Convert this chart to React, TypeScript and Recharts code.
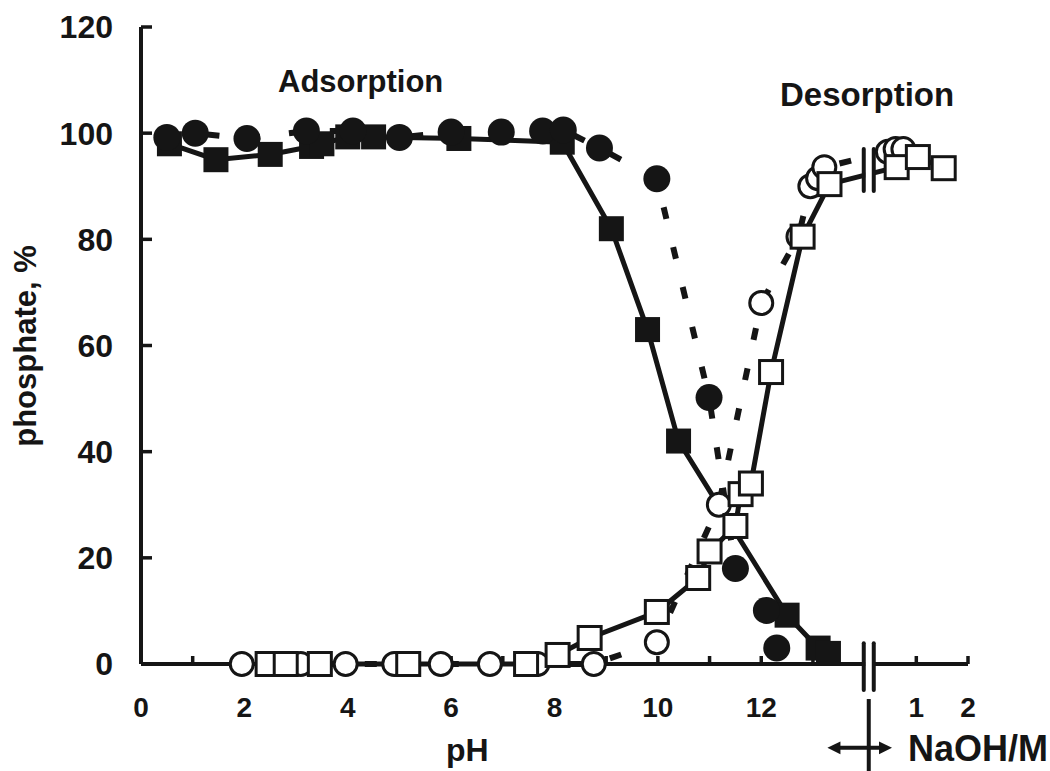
import React from "react";
import { ComposedChart, Line, XAxis, YAxis, ReferenceLine } from "recharts";

// right of the axis break the x axis reads NaOH (M); plotted at 14 + M
const naohOffset = 14;
const breakAt = 14.08;

const pHTicks = [0, 1, 2, 3, 4, 5, 6, 7, 8, 9, 10, 11, 12, 13];
const naohTicks = [1, 2];
const yTicks = [0, 20, 40, 60, 80, 100, 120];

// adsorption, closed squares (solid line)
const adsSquarePH = [0.55, 1.45, 2.5, 3.3, 3.5, 4.0, 4.5, 6.15, 8.15, 9.1, 9.8, 10.4, 12.5, 13.1, 13.3];
const adsSquareVal = [98, 95, 96, 97.5, 98, 99.3, 99.3, 99, 98.3, 82, 63, 42, 9.2, 3, 2];

// adsorption, closed circles (dashed line)
const adsCirclePH = [0.5, 1.05, 2.05, 3.2, 4.1, 5.0, 6.0, 6.97, 7.77, 8.17, 8.87, 9.98, 10.99, 11.5, 12.1, 12.3];
const adsCircleVal = [99.2, 100, 99, 100.4, 100.4, 99.2, 100.2, 100.2, 100.4, 100.6, 97.2, 91.4, 50.2, 18, 10.1, 3];

// desorption, open circles (dashed line)
const desCirclePH = [1.95, 3.09, 3.96, 4.9, 5.8, 6.75, 7.67, 8.76, 9.98, 11.18, 12.0, 12.72, 12.95, 13.1, 13.22];
const desCircleVal = [0, 0, 0, 0, 0, 0, 0, 0, 4.1, 30, 68, 80.5, 90, 91.5, 93.6];
const desCircleNaOH = [0.45, 0.6, 0.75];
const desCircleNaOHVal = [96.5, 97, 97];

// desorption, open squares (solid line)
const desSquarePH = [2.45, 2.8, 3.46, 5.17, 7.45, 8.06, 8.68, 9.98, 10.78, 11.0, 11.5, 11.6, 11.8, 12.19, 12.8, 13.32];
const desSquareVal = [0, 0, 0, 0, 0, 1.7, 4.9, 9.8, 16.2, 21.2, 26, 32, 34, 55, 80.5, 90.4];
const desSquareNaOH = [0.62, 1.03, 1.53];
const desSquareNaOHVal = [93.6, 95.5, 93.4];

const ink = "#151515";
const font = "'Liberation Sans', Arial, sans-serif";

const zip = (xs: number[], ys: number[]) => xs.map((x, i) => ({ x, v: ys[i] }));
const adsSquare = zip(adsSquarePH, adsSquareVal);
const adsCircle = zip(adsCirclePH, adsCircleVal);
const desCircle = [
  ...zip(desCirclePH, desCircleVal),
  ...zip(desCircleNaOH.map((m) => m + naohOffset), desCircleNaOHVal),
];
const desSquare = [
  ...zip(desSquarePH, desSquareVal),
  ...zip(desSquareNaOH.map((m) => m + naohOffset), desSquareNaOHVal),
];

const xTicks = [...pHTicks, ...naohTicks.map((m) => m + naohOffset)];
const xTickLabel = (v: number) => {
  if (v > naohOffset) return String(Math.round(v - naohOffset));
  return v % 2 === 0 && v <= 12 ? String(v) : "";
};

const filledCircle = (p: any) => (
  <circle key={`fc-${p.index}`} cx={p.cx} cy={p.cy} r={13.5} fill={ink} />
);
const openCircle = (p: any) => (
  <circle key={`oc-${p.index}`} cx={p.cx} cy={p.cy} r={11.5} fill="#fff" stroke={ink} strokeWidth={3} />
);
const filledSquare = (p: any) => (
  <rect key={`fs-${p.index}`} x={p.cx - 12.5} y={p.cy - 12.5} width={25} height={25} fill={ink} />
);
const openSquare = (p: any) => (
  <rect key={`os-${p.index}`} x={p.cx - 11.5} y={p.cy - 11.5} width={23} height={23} fill="#fff" stroke={ink} strokeWidth={3} />
);

// double bar marking the break of the axis / data line
const BreakMark = (p: any) => {
  const top = Math.min(p.y1, p.y2);
  const h = Math.abs(p.y2 - p.y1);
  return (
    <g>
      <rect x={p.x1 - 3.5} y={top + 2} width={7} height={h - 4} fill="#fff" />
      <line x1={p.x1 - 5} y1={p.y1} x2={p.x1 - 5} y2={p.y2} stroke={ink} strokeWidth={4} strokeLinecap="round" />
      <line x1={p.x1 + 5} y1={p.y1} x2={p.x1 + 5} y2={p.y2} stroke={ink} strokeWidth={4} strokeLinecap="round" />
    </g>
  );
};

const DoubleArrow = (p: any) => {
  const y = p.y1;
  const a = 9;
  return (
    <g fill={ink}>
      <line x1={p.x1 + 6} y1={y} x2={p.x2 - 6} y2={y} stroke={ink} strokeWidth={4} />
      <path d={`M${p.x1},${y} L${p.x1 + a + 4},${y - a * 0.7} L${p.x1 + a + 4},${y + a * 0.7} Z`} />
      <path d={`M${p.x2},${y} L${p.x2 - a - 4},${y - a * 0.7} L${p.x2 - a - 4},${y + a * 0.7} Z`} />
    </g>
  );
};

const text = (style: React.CSSProperties): React.CSSProperties => ({
  position: "absolute",
  fontFamily: font,
  fontWeight: 700,
  color: ink,
  lineHeight: 1,
  whiteSpace: "nowrap",
  ...style,
});

export default function App() {
  return (
    <div style={{ position: "absolute", left: 0, top: 0, width: 1050, height: 771, background: "#fff" }}>
      <ComposedChart
        width={1050}
        height={771}
        margin={{ top: 27, right: 82, bottom: 47, left: 81 }}
      >
        <XAxis
          type="number"
          dataKey="x"
          domain={[0, 16]}
          ticks={xTicks}
          interval={0}
          tickFormatter={xTickLabel}
          height={60}
          axisLine={false}
          tickSize={-8}
          tickMargin={41}
          tickLine={{ stroke: ink, strokeWidth: 3.5 }}
          tick={{ fill: ink, fontSize: 28, fontWeight: 700, fontFamily: font }}
        />
        <YAxis
          type="number"
          domain={[0, 120]}
          ticks={yTicks}
          interval={0}
          width={60}
          axisLine={{ stroke: ink, strokeWidth: 4 }}
          tickSize={-11}
          tickMargin={39}
          tickLine={{ stroke: ink, strokeWidth: 3.5 }}
          tick={{ fill: ink, fontSize: 32, fontWeight: 700, fontFamily: font }}
        />

        {/* x axis line, drawn in two pieces around the break */}
        <ReferenceLine
          segment={[{ x: 0, y: 0 }, { x: breakAt, y: 0 }]}
          stroke={ink}
          strokeWidth={4}
          ifOverflow="visible"
        />
        <ReferenceLine
          segment={[{ x: breakAt, y: 0 }, { x: 16, y: 0 }]}
          stroke={ink}
          strokeWidth={4}
          ifOverflow="visible"
        />

        <Line
          data={adsSquare}
          dataKey="v"
          stroke={ink}
          strokeWidth={5}
          dot={filledSquare}
          isAnimationActive={false}
        />
        <Line
          data={adsCircle}
          dataKey="v"
          stroke={ink}
          strokeWidth={6}
          strokeDasharray="12 29"
          dot={filledCircle}
          isAnimationActive={false}
        />
        <Line
          data={desCircle}
          dataKey="v"
          stroke={ink}
          strokeWidth={6}
          strokeDasharray="12 29"
          dot={openCircle}
          isAnimationActive={false}
        />
        <Line
          data={desSquare}
          dataKey="v"
          stroke={ink}
          strokeWidth={5}
          dot={openSquare}
          isAnimationActive={false}
        />

        {/* breaks on the axis and on the desorption line */}
        <ReferenceLine
          segment={[{ x: breakAt, y: 3.9 }, { x: breakAt, y: -4.9 }]}
          shape={BreakMark}
          ifOverflow="visible"
        />
        <ReferenceLine
          segment={[{ x: breakAt, y: 97 }, { x: breakAt, y: 89.1 }]}
          shape={BreakMark}
          ifOverflow="visible"
        />
        {/* pH | NaOH divider with arrow */}
        <ReferenceLine
          segment={[{ x: breakAt, y: -6.6 }, { x: breakAt, y: -20.5 }]}
          stroke={ink}
          strokeWidth={4}
          ifOverflow="visible"
        />
        <ReferenceLine
          segment={[{ x: 13.28, y: -15.8 }, { x: 14.53, y: -15.8 }]}
          shape={DoubleArrow}
          ifOverflow="visible"
        />
      </ComposedChart>

      <div style={text({ left: 278, top: 66, fontSize: 31 })}>Adsorption</div>
      <div style={text({ left: 780, top: 78, fontSize: 33 })}>Desorption</div>
      <div style={text({ left: 446, top: 734, fontSize: 32 })}>pH</div>
      <div style={text({ left: 908, top: 731, fontSize: 36 })}>NaOH/M</div>
      <div
        style={text({
          left: 25,
          top: 346,
          fontSize: 31,
          transform: "translate(-50%, -50%) rotate(-90deg)",
        })}
      >
        phosphate, %
      </div>
    </div>
  );
}
